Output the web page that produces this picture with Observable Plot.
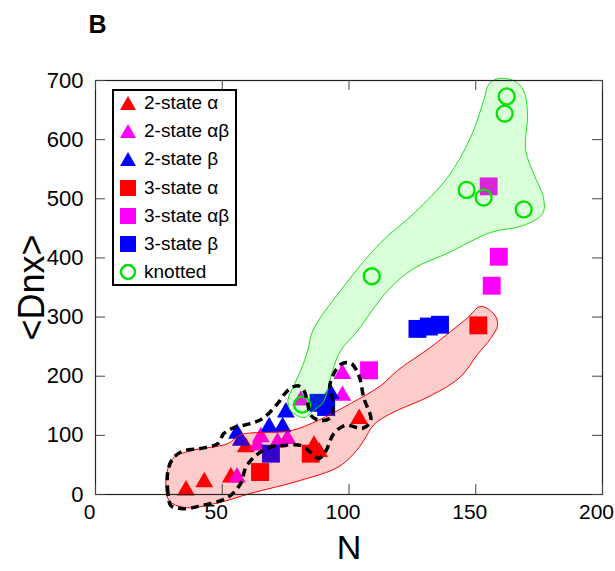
<!DOCTYPE html>
<html>
<head>
<meta charset="utf-8">
<script src="https://cdn.jsdelivr.net/npm/d3@7"></script>
<script src="https://cdn.jsdelivr.net/npm/@observablehq/plot@0.6"></script>
<style>
  body { margin: 0; background: #fff; }
  #wrap { position: relative; width: 615px; height: 571px; font-family: "Liberation Sans", Arial, Helvetica, sans-serif; }
  #legend { position: absolute; left: 112px; top: 89px; width: 125px; height: 197px; box-sizing: border-box;
            border: 2px solid #000; background: #fff; }
  .row { position: absolute; left: 0; height: 24px; display: flex; align-items: center; font-size: 19px; color: #000; white-space: nowrap; }
  .row svg { width: 20px; height: 20px; margin-left: 4px; margin-right: 6px; flex: none; }
</style>
</head>
<body>
<div id="wrap"><div id="chart"></div><div id="legend"></div></div>
<script>
// ---- data (N, <Dnx>) ----
const twoStateAlpha     = [[35.7,7],[42.9,21],[53.4,29],[59.3,80],[86.2,83],[88.2,72],[104,128]];
const twoStateAlphaBeta = [[55.8,29],[63.9,83],[65.2,97],[71.8,88],[75.7,94],[81,159],[97.4,167],[97.4,204]];
const twoStateBeta      = [[55.8,103],[57.3,91],[68.5,114],[73.8,114],[75.1,139],[92.8,170]];
const threeStateAlpha     = [[151,286],[64.9,38],[84.9,69]];
const threeStateAlphaBeta = [[155.1,521],[159.1,402],[156.3,353],[107.9,210]];
const threeStateBeta      = [[127,280],[131.5,284],[135.9,287],[88,155],[91,148],[69.2,69]];
const knotted = [[162.2,673],[161.4,644],[146.4,515],[153.1,502],[168.9,482],[109,369],[81.5,152]];

// outlines (N, <Dnx>)
const greenHull = [[158.6,703],[164.9,700],[168.9,683],[170.4,644],[169.7,582],[172.8,543],[176.7,502],[176.4,475],
  [168.9,455],[155.9,443],[138.9,408],[125.5,382],[115.3,345],[103.4,277],[96.7,243],[93.6,210],[91.6,176],[89.7,155],
  [86.1,142],[82.2,130],[77,142],[75.9,159],[78.2,184],[81,210],[83.7,243],[85.7,277],[96.7,345],[112.5,426],
  [125.5,475],[138.9,536],[148,604],[153.1,666],[155.1,693]];
const redHull = [[151.9,318],[157.4,304],[158.6,286],[155.9,264],[150.7,237],[144,199],[132.2,167],[116.5,137],
  [109.8,118],[105.8,91],[101.9,69],[95.6,46],[81,24],[61.3,2],[47.5,-15],[34.9,-22],[29,-10],[27.8,24],[30.5,61],
  [37.6,74],[52.2,86],[57.3,101],[77,108],[87.7,125],[100.7,154],[112.5,184],[119.2,210],[132.2,249],[146.8,299]];
const dashedOutline = [[29.8,-19],[28.6,2],[28.6,41],[30.9,63],[34.9,74],[41.6,78],[48.3,86],[50.6,103],[54.6,113],
  [61.3,120],[66.4,130],[71.9,154],[75.9,176],[79.8,184],[82.2,176],[83.7,154],[84.9,134],[88.8,125],[92.8,130],
  [93.6,159],[92.4,184],[96.7,220],[100.7,222],[103.9,201],[105.8,164],[108.6,125],[105.4,112],[98.7,117],[94,103],
  [90.9,74],[88.1,61],[84.9,71],[81,83],[74.3,83],[68,79],[62.5,63],[59.3,46],[57.3,19],[52.2,-5],[41.6,-19],[34.9,-24]];

const xTicks = [0, 50, 100, 150, 200];
const yTicks = [0, 100, 200, 300, 400, 500, 600, 700];
const legendLabels = ["2-state α", "2-state αβ", "2-state β", "3-state α", "3-state αβ", "3-state β", "knotted"];

const RED = "#ff0000", MAG = "#ff00ff", BLUE = "#0000ff", GREEN = "#00e000";
const X = d => d[0], Y = d => d[1];
const TRI_R = 6.6, SQ_R = 10.1;

const chart = Plot.plot({
  width: 615, height: 571,
  marginLeft: 95, marginRight: 13, marginTop: 80, marginBottom: 77,
  x: {domain: [0, 200], label: null},
  y: {domain: [0, 700], label: null},
  style: {fontFamily: '"Liberation Sans", Arial, Helvetica, sans-serif', background: "#fff", color: "#000", overflow: "visible"},
  marks: [
    Plot.dot(twoStateAlpha, {x: X, y: Y, symbol: "triangle", r: TRI_R, fill: RED, stroke: "none"}),
    Plot.dot(twoStateAlphaBeta, {x: X, y: Y, symbol: "triangle", r: TRI_R, fill: MAG, stroke: "none"}),
    Plot.dot(twoStateBeta, {x: X, y: Y, symbol: "triangle", r: TRI_R, fill: BLUE, stroke: "none"}),
    Plot.dot(threeStateAlpha, {x: X, y: Y, symbol: "square", r: SQ_R, fill: RED, stroke: "none"}),
    Plot.dot(threeStateAlphaBeta, {x: X, y: Y, symbol: "square", r: SQ_R, fill: MAG, stroke: "none"}),
    Plot.dot(threeStateBeta, {x: X, y: Y, symbol: "square", r: SQ_R, fill: BLUE, stroke: "none"}),
    Plot.dot(knotted, {x: X, y: Y, r: 8, fill: "none", stroke: GREEN, strokeWidth: 2.3}),
    Plot.line(redHull, {x: X, y: Y, curve: "catmull-rom-closed", fill: RED, fillOpacity: 0.2, stroke: RED, strokeWidth: 1}),
    Plot.line(greenHull, {x: X, y: Y, curve: "catmull-rom-closed", fill: "#00ff00", fillOpacity: 0.15, stroke: "#22dd22", strokeWidth: 1}),
    Plot.line(dashedOutline, {x: X, y: Y, curve: "catmull-rom-closed", fill: "none", stroke: "#000", strokeWidth: 3.5, strokeDasharray: "8,5", strokeLinecap: "butt"}),
    Plot.frame({stroke: "#222", strokeWidth: 1.2}),
    Plot.tickX(xTicks, {x: d => d, insetTop: 404, stroke: "#444"}),
    Plot.tickX(xTicks, {x: d => d, insetBottom: 404, stroke: "#444"}),
    Plot.tickY(yTicks, {y: d => d, insetRight: 497, stroke: "#444"}),
    Plot.tickY(yTicks, {y: d => d, insetLeft: 497, stroke: "#444"}),
    Plot.axisX({ticks: xTicks, tickSize: 0, tickPadding: 10, fontSize: 21, label: null, dx: -6}),
    Plot.axisY({ticks: yTicks, tickSize: 0, tickPadding: 12, fontSize: 22, label: null}),
    Plot.text(["N"], {text: d => d, frameAnchor: "bottom", dy: 54, fontSize: 34, textAnchor: "middle", lineAnchor: "middle"}),
    Plot.text(["<Dnx>"], {text: d => d, frameAnchor: "left", dx: -63, rotate: -90, fontSize: 36, textAnchor: "middle", lineAnchor: "middle"}),
    Plot.text(["B"], {text: d => d, frameAnchor: "top-left", dx: 2, dy: -56, fontSize: 25, fontWeight: "bold", textAnchor: "middle", lineAnchor: "middle"})
  ]
});
document.getElementById("chart").appendChild(chart);

// legend
const legendMarkers = [
  `<polygon points="10,3 18,17 2,17" fill="${RED}"/>`,
  `<polygon points="10,3 18,17 2,17" fill="${MAG}"/>`,
  `<polygon points="10,3 18,17 2,17" fill="${BLUE}"/>`,
  `<rect x="2" y="2" width="16" height="16" fill="${RED}"/>`,
  `<rect x="2" y="2" width="16" height="16" fill="${MAG}"/>`,
  `<rect x="2" y="2" width="16" height="16" fill="${BLUE}"/>`,
  `<circle cx="10" cy="10" r="7" fill="none" stroke="${GREEN}" stroke-width="2.4"/>`
];
const leg = document.getElementById("legend");
legendLabels.forEach((lab, i) => {
  const row = document.createElement("div");
  row.className = "row";
  row.style.top = (14 + i * 28.2 - 2 - 12) + "px";
  row.innerHTML = `<svg viewBox="0 0 20 20">${legendMarkers[i]}</svg><span>${lab}</span>`;
  leg.appendChild(row);
});
</script>
</body>
</html>
